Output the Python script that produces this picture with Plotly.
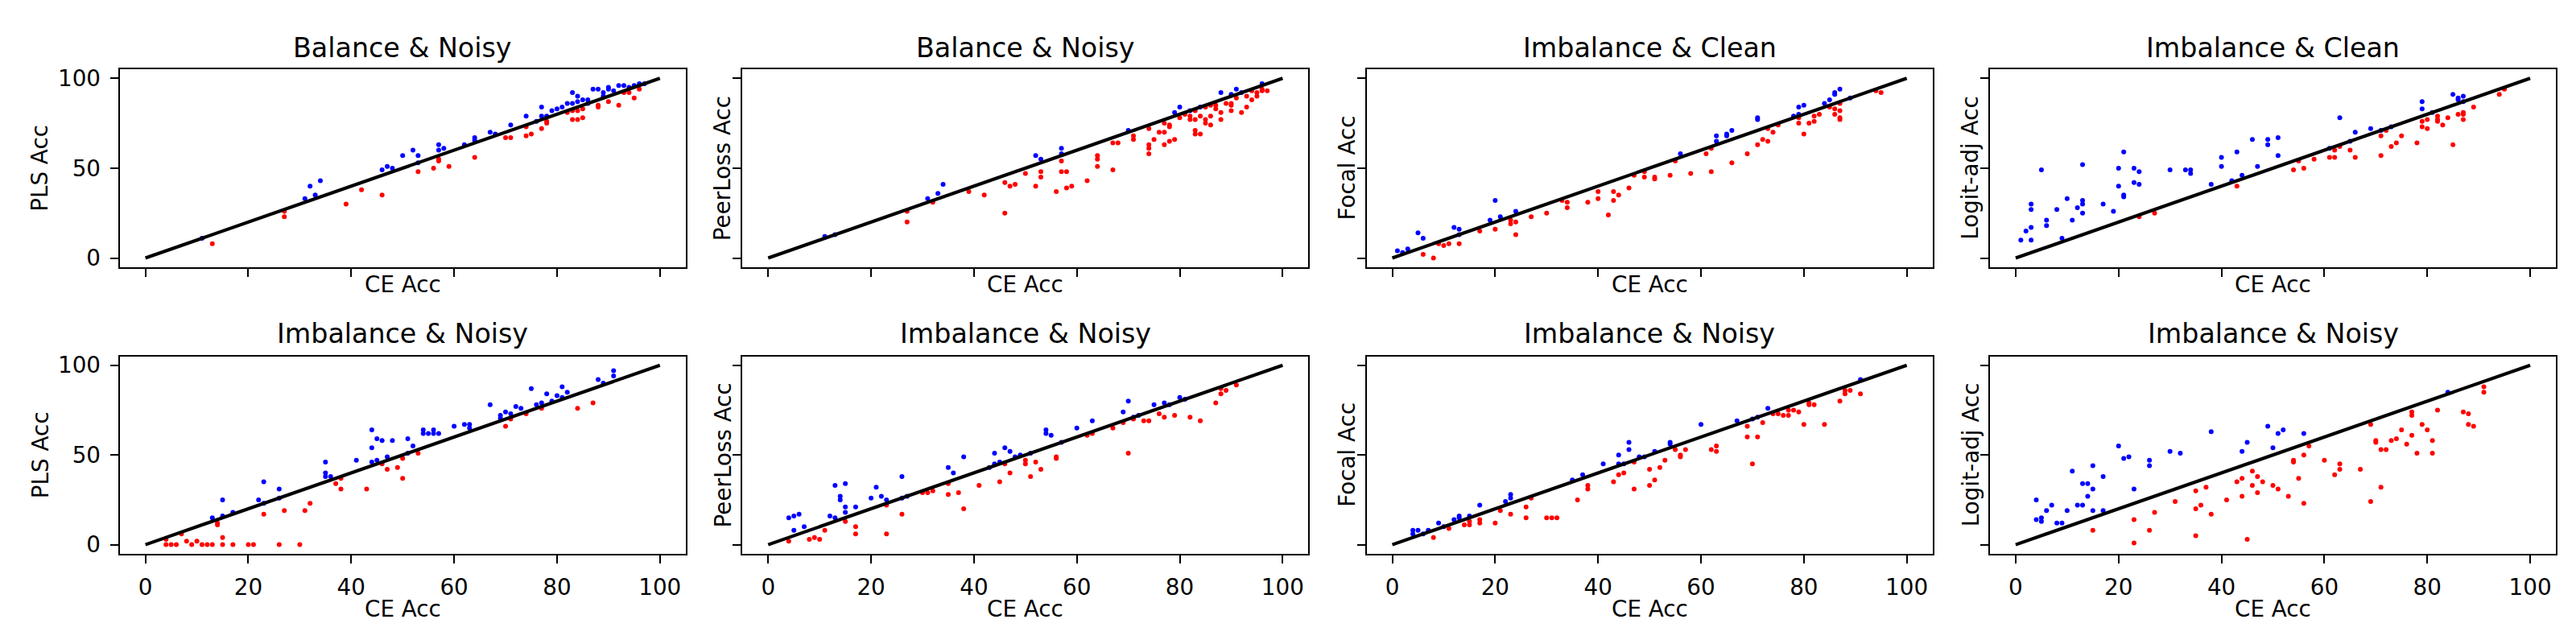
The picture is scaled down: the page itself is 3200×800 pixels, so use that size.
import plotly.graph_objects as go

# ---------------- data (CE accuracy vs. method accuracy) ----------------
titles = ["Balance & Noisy", "Balance & Noisy", "Imbalance & Clean", "Imbalance & Clean",
          "Imbalance & Noisy", "Imbalance & Noisy", "Imbalance & Noisy", "Imbalance & Noisy"]
ylabels = ["PLS Acc", "PeerLoss Acc", "Focal Acc", "Logit-adj Acc",
           "PLS Acc", "PeerLoss Acc", "Focal Acc", "Logit-adj Acc"]
xlabel = "CE Acc"
x_ticks = [0, 20, 40, 60, 80, 100]
y_ticks = [0, 50, 100]

# Panel 1: Balance & Noisy, PLS
p1_up_ce = [11, 31, 32, 33, 34, 46, 47, 48, 50, 52, 53, 53, 57, 57, 58, 62, 64, 64, 67, 68, 71, 74, 76, 77, 77,
            78, 79, 80, 81, 82, 83, 83, 84, 84, 85, 86, 86, 87, 88, 89, 89, 90, 90, 91, 92, 93, 94, 95, 96, 97]
p1_up_acc = [11, 33, 40, 35, 43, 49, 51, 50, 57, 60, 57, 53, 63, 60, 61, 63, 67, 65.5, 70, 69, 74, 79, 76, 84, 79,
             79, 82, 83, 84, 86, 92, 86, 90, 87, 88, 88, 86, 94, 94, 92, 90, 95, 94, 93, 96, 96, 95, 96, 97, 97]
p1_dn_ce = [13, 27, 27, 39, 42, 46, 53, 56, 57, 57, 59, 64, 70, 71, 74, 74, 75, 77, 78, 78, 82, 83, 83, 84, 84,
            85, 85, 88, 88, 90, 92, 93, 94, 95, 96]
p1_dn_acc = [8, 26, 23, 30, 38, 35, 48, 50, 55, 54, 51, 56, 67, 67, 73, 68, 69, 72, 75, 76, 81, 82, 77, 82, 77,
             83, 78, 85, 84, 87, 85, 92, 92, 89, 94]

# Panel 2: Balance & Noisy, PeerLoss
p2_up_ce = [11, 13, 31, 33, 34, 52, 53, 57, 57, 70, 79, 80, 82, 84, 88, 90, 91, 92, 96]
p2_up_acc = [12, 13, 33, 36, 41, 57, 55, 61, 58, 71, 81, 84, 82, 84, 92, 91, 94, 92, 97]
p2_dn_ce = [27, 27, 32, 39, 42, 46, 46, 47, 48, 50, 52, 53, 53, 56, 57, 57, 58, 58, 59, 62, 64, 64, 64, 67, 67,
            68, 71, 71, 74, 74, 74, 74, 75, 76, 77, 77, 77, 78, 78, 78, 79, 80, 81, 82, 82, 83, 83, 83, 83, 84,
            84, 85, 85, 85, 86, 86, 86, 87, 87, 88, 88, 89, 90, 90, 90, 91, 92, 93, 93, 94, 94, 95, 95, 96, 96, 97]
p2_dn_acc = [26, 20, 31, 37, 35, 42, 25, 40, 41, 47, 40, 48, 45, 37, 54, 48, 48, 39, 40, 43, 57, 55, 51, 64, 49,
             64, 68, 66, 72, 63, 61, 58, 66, 70, 75, 70, 63, 74, 73, 65, 66, 78, 80, 79, 77, 82, 77, 71, 69, 79,
             69, 84, 77, 75, 85, 79, 74, 85, 83, 81, 77, 86, 86, 85, 82, 89, 81, 90, 84, 93, 88, 92, 90, 94, 93, 93]

# Panel 3: Imbalance & Clean, Focal
p3_up_ce = [1, 2, 3, 5, 6, 12, 13, 13, 19, 20, 21, 24, 56, 63, 63, 65, 65, 66, 71, 71, 78, 79, 79, 80, 84,
            85, 86, 86, 87, 89]
p3_up_acc = [4, 3, 5, 14, 11, 17, 16, 13, 21, 32, 23, 26, 58, 68, 65, 69, 68, 71, 78, 77, 79, 84, 80, 85, 86,
             88, 92, 91, 94, 89]
p3_dn_ce = [6, 8, 9, 10, 11, 13, 17, 20, 23, 23, 24, 24, 27, 30, 33, 34, 34, 38, 40, 40, 42, 43, 43, 44, 46,
            47, 49, 49, 51, 51, 54, 55, 58, 61, 62, 62, 66, 69, 71, 72, 73, 73, 74, 75, 79, 79, 80, 81, 82, 82,
            83, 85, 86, 86, 87, 87, 87, 87, 94, 95]
p3_dn_acc = [2, 0, 8, 7, 8, 8, 15, 16, 21, 19, 20, 13, 23, 25, 32, 31, 28, 31, 37, 33, 24, 37, 32, 35, 39,
             46, 48, 45, 45, 44, 46, 54, 47, 58, 61, 48, 53, 58, 63, 66, 65, 72, 70, 74, 78, 75, 69, 75, 79, 76,
             80, 84, 83, 80, 86, 82, 78, 77, 93, 92]

# Panel 4: Imbalance & Clean, Logit-adj
p4_up_ce = [1, 2, 3, 3, 3, 3, 5, 6, 6, 8, 9, 10, 11, 12, 13, 13, 13, 13, 17, 19, 20, 20, 21, 21, 21,
            23, 23, 24, 24, 30, 33, 34, 34, 38, 40, 40, 42, 43, 44, 46, 47, 49, 49, 51, 51, 61, 63, 65, 66, 69,
            71, 73, 79, 79, 81, 85, 86, 86, 87, 87]
p4_up_acc = [10, 15, 10, 17, 27, 30, 49, 18, 21, 27, 11, 33, 21, 28, 52, 32, 30, 25, 30, 26, 50, 40, 59, 35, 34,
             50, 42, 48, 41, 49, 49, 49, 47, 41, 56, 51, 43, 59, 46, 66, 51, 66, 63, 67, 57, 61, 78, 65, 70, 72,
             71, 73, 87, 83, 81, 91, 89, 88, 90, 87]
p4_dn_ce = [24, 27, 43, 54, 55, 56, 58, 61, 62, 62, 63, 65, 66, 71, 71, 72, 73, 74, 75, 78, 79, 79, 80, 80, 82,
            82, 82, 83, 84, 85, 86, 87, 87, 87, 89, 94, 95]
p4_dn_acc = [23, 25, 40, 49, 54, 50, 55, 56, 56, 60, 62, 60, 56, 68, 57, 71, 62, 64, 68, 64, 76, 73, 77, 72, 79,
             77, 76, 74, 78, 63, 80, 81, 80, 77, 84, 91, 94]

# Panel 5: Imbalance & Noisy, PLS
p5_up_ce = [13, 15, 15, 17, 22, 23, 23, 26, 26, 35, 35, 35, 36, 41, 44, 44, 44, 45, 45, 46, 47, 48, 51, 51, 52,
            54, 54, 55, 56, 56, 57, 60, 62, 63, 63, 67, 69, 69, 70, 71, 72, 73, 75, 76, 77, 78, 79, 80, 81, 81,
            82, 88, 89, 91, 91]
p5_up_acc = [15, 25, 16, 18, 25, 35, 23, 31, 26, 46, 40, 38, 38, 47, 64, 54, 46, 59, 47, 58, 49, 58, 59, 51, 55,
             64, 62, 62, 64, 62, 62, 66, 67, 67, 65, 78, 72, 70.5, 74, 73, 77, 76, 87, 78, 79, 84, 80, 83, 88, 82,
             85, 92, 90, 97, 94]
p5_dn_ce = [4, 4, 5, 6, 7, 8, 9, 10, 11, 12, 13, 14, 14, 15, 15, 17, 20, 21, 23, 26, 27, 30, 31, 32, 37,
            38, 38, 43, 46, 47, 49, 50, 50, 53, 70, 71, 74, 77, 84, 87]
p5_dn_acc = [3, 0, 0, 0, 6, 2, 0, 2, 0, 0, 0, 11, 12, 4, 0, 0, 0, 0, 17, 0, 19, 0, 19, 23, 34,
             37, 31, 31, 45, 42, 43, 48, 37, 51, 66, 70, 73, 76, 76, 79]

# Panel 6: Imbalance & Noisy, PeerLoss
p6_up_ce = [4, 5, 5, 6, 7, 12, 13, 13, 14, 14, 15, 15, 15, 17, 20, 21, 22, 23, 26, 26, 27, 35, 36, 38, 43,
            44, 44, 45, 46, 47, 48, 49, 51, 54, 54, 55, 57, 60, 63, 69, 70, 71, 72, 75, 77, 78, 80, 81]
p6_up_acc = [15, 16, 8, 17, 10, 16, 33, 15, 27, 25, 34, 21, 18, 21, 26, 32, 27, 25, 38, 26, 27, 43, 40, 49, 43,
             51, 45, 46, 54, 52, 49, 50, 51, 64, 62, 61, 57, 65, 69, 74, 80, 71, 72, 78, 79, 78, 82, 81]
p6_dn_ce = [4, 8, 9, 10, 11, 15, 17, 17, 23, 23, 26, 30, 31, 32, 35, 35, 37, 38, 41, 45, 46, 47, 50, 50, 51,
            52, 53, 56, 56, 62, 63, 67, 69, 70, 71, 73, 74, 76, 77, 79, 82, 84, 87, 88, 88, 89, 91]
p6_dn_acc = [2, 3, 4, 3, 8, 13, 10, 6, 22, 6, 17, 29, 29, 30, 34, 28, 29, 20, 33, 35, 45, 40, 47, 45, 38,
             46, 42, 49, 48, 61, 62, 65, 68, 51, 70, 69, 69, 73, 71, 72, 71, 69, 79, 84, 87, 86, 89]

# Panel 7: Imbalance & Noisy, Focal
p7_up_ce = [4, 4, 5, 6, 7, 9, 10, 12, 13, 13, 15, 17, 22, 23, 23, 35, 37, 41, 44, 44, 45, 46, 46, 48, 49,
            51, 54, 54, 60, 67, 70, 71, 73, 91]
p7_up_acc = [8, 6, 8, 6, 8, 12, 10, 14, 16, 15, 16, 22, 24, 26, 28, 36, 39, 45, 50, 45, 45, 57, 53, 49, 49,
             52, 57, 56, 67, 69, 70, 71, 76, 92]
p7_dn_ce = [8, 11, 14, 15, 15, 17, 17, 20, 21, 23, 26, 26, 27, 30, 31, 32, 36, 38, 38, 43, 44, 45, 47, 47, 50,
            50, 51, 52, 53, 55, 56, 56, 57, 62, 63, 63, 69, 69, 70, 71, 72, 74, 75, 76, 77, 77, 78, 79, 80, 81,
            81, 82, 84, 87, 88, 88, 89, 91]
p7_dn_acc = [4, 9, 11, 11, 13, 12, 14, 12, 19, 17, 21, 15, 26, 15, 15, 15, 25, 33, 31, 35, 39, 40, 46, 31, 42,
             33, 36, 43, 47, 53, 50, 49, 53, 53, 55, 52, 66, 60, 45, 60, 68, 73, 73, 72, 72, 75, 75, 74, 67, 79,
             78, 78, 67, 80, 84, 86, 86, 84]

# Panel 8: Imbalance & Noisy, Logit-adj
p8_up_ce = [4, 4, 5, 5, 6, 7, 8, 9, 10, 11, 12, 13, 13, 14, 14, 15, 15, 15, 17, 17, 20, 21, 22, 23, 26,
            26, 30, 32, 38, 44, 45, 49, 50, 51, 52, 56, 84]
p8_up_acc = [25, 14, 15, 13, 19, 22, 12, 12, 19, 41, 22, 34, 22, 34, 27, 44, 31, 19, 38, 19, 55, 48, 49, 31, 47,
             44, 52, 51, 63, 52, 57, 66, 54, 62, 64, 62, 85]
p8_dn_ce = [15, 23, 23, 26, 27, 31, 35, 35, 35, 36, 37, 38, 41, 43, 44, 44, 45, 46, 46, 47, 47, 48, 50, 51, 53,
            54, 54, 55, 56, 56, 57, 60, 62, 63, 63, 67, 69, 69, 70, 70, 71, 71, 72, 73, 74, 75, 76, 77, 77, 77,
            78, 79, 80, 81, 81, 82, 87, 88, 88, 89, 91, 91]
p8_dn_acc = [8, 14, 1, 8, 18, 24, 30, 20, 5, 22, 32, 17, 25, 35, 37, 27, 3, 41, 33, 38, 29, 35, 33, 31, 27,
             47, 46, 37, 50, 23, 55, 47, 39, 45, 42, 42, 67, 24, 58, 57, 53, 32, 53, 58, 59, 64, 56, 74, 72, 61,
             51, 67, 64, 58, 51, 75, 74, 73, 67, 66, 88, 85]

diag = [0, 100]

panels = [
    (p1_up_ce, p1_up_acc, p1_dn_ce, p1_dn_acc),
    (p2_up_ce, p2_up_acc, p2_dn_ce, p2_dn_acc),
    (p3_up_ce, p3_up_acc, p3_dn_ce, p3_dn_acc),
    (p4_up_ce, p4_up_acc, p4_dn_ce, p4_dn_acc),
    (p5_up_ce, p5_up_acc, p5_dn_ce, p5_dn_acc),
    (p6_up_ce, p6_up_acc, p6_dn_ce, p6_dn_acc),
    (p7_up_ce, p7_up_acc, p7_dn_ce, p7_dn_acc),
    (p8_up_ce, p8_up_acc, p8_dn_ce, p8_dn_acc),
]

# ---------------- layout geometry (pixels) ----------------
W, H = 3200, 800
col_left = [140.7, 914.3, 1689.6, 2464.0]
ax_w = 703.0
row_top = [74.0, 435.0]
row_bot = [322.7, 683.3]

FONT = "DejaVu Sans"
TICK_FS = 27.8
LABEL_FS = 27.8
TITLE_FS = 33.3
LW = 2.2

fig = go.Figure()
layout = dict(
    width=W, height=H,
    margin=dict(l=0, r=0, t=0, b=0),
    paper_bgcolor="white", plot_bgcolor="white",
    showlegend=False,
    font=dict(family=FONT, color="black", size=LABEL_FS),
)
annotations = []

for i, (uce, uacc, dce, dacc) in enumerate(panels):
    r, c = divmod(i, 4)
    n = i + 1
    xa = "x" if n == 1 else f"x{n}"
    ya = "y" if n == 1 else f"y{n}"
    x0 = col_left[c] / W
    x1 = (col_left[c] + ax_w) / W
    y1 = 1 - row_top[r] / H
    y0 = 1 - row_bot[r] / H

    fig.add_trace(go.Scatter(x=uce, y=uacc, mode="markers", xaxis=xa, yaxis=ya,
                             marker=dict(color="#0000ff", size=6, line=dict(width=0)),
                             hoverinfo="skip"))
    fig.add_trace(go.Scatter(x=dce, y=dacc, mode="markers", xaxis=xa, yaxis=ya,
                             marker=dict(color="#ff0000", size=6, line=dict(width=0)),
                             hoverinfo="skip"))
    fig.add_trace(go.Scatter(x=diag, y=diag, mode="lines", xaxis=xa, yaxis=ya,
                             line=dict(color="black", width=4.2), hoverinfo="skip"))

    xkey = "xaxis" if n == 1 else f"xaxis{n}"
    ykey = "yaxis" if n == 1 else f"yaxis{n}"
    layout[xkey] = dict(
        domain=[x0, x1], anchor=ya, range=[-5, 105],
        tickmode="array", tickvals=x_ticks, ticktext=[str(v) for v in x_ticks],
        ticks="outside", ticklen=10, tickwidth=LW, tickcolor="black",
        showline=True, linewidth=LW, linecolor="black", mirror=True,
        showgrid=False, zeroline=False,
        showticklabels=(r == 1), ticklabelstandoff=6,
        tickfont=dict(family=FONT, size=TICK_FS, color="black"),
    )
    layout[ykey] = dict(
        domain=[y0, y1], anchor=xa, range=[-5, 105],
        tickmode="array", tickvals=y_ticks, ticktext=[str(v) for v in y_ticks],
        ticks="outside", ticklen=10, tickwidth=LW, tickcolor="black",
        showline=True, linewidth=LW, linecolor="black", mirror=True,
        showgrid=False, zeroline=False,
        showticklabels=(c == 0), ticklabelstandoff=6,
        tickfont=dict(family=FONT, size=TICK_FS, color="black"),
    )

    cx = (col_left[c] + ax_w / 2) / W
    # title
    title_y = (46.7 if r == 0 else 406.7)
    annotations.append(dict(text=titles[i], xref="paper", yref="paper", x=cx, y=1 - title_y / H,
                            xanchor="center", yanchor="middle", showarrow=False,
                            font=dict(family=FONT, size=TITLE_FS, color="black")))
    # x label
    xl_y = (345.0 if r == 0 else 753.0)
    annotations.append(dict(text=xlabel, xref="paper", yref="paper", x=cx, y=1 - xl_y / H,
                            xanchor="center", yanchor="middle", showarrow=False,
                            font=dict(family=FONT, size=LABEL_FS, color="black")))
    # y label
    yl_x = 42.0 if c == 0 else col_left[c] - 24.0
    cy = 1 - ((row_top[r] + row_bot[r]) / 2) / H
    annotations.append(dict(text=ylabels[i], xref="paper", yref="paper", x=yl_x / W, y=cy,
                            xanchor="center", yanchor="middle", textangle=-90, showarrow=False,
                            font=dict(family=FONT, size=LABEL_FS, color="black")))

layout["annotations"] = annotations
fig.update_layout(**layout)
fig.write_html("out.html")
